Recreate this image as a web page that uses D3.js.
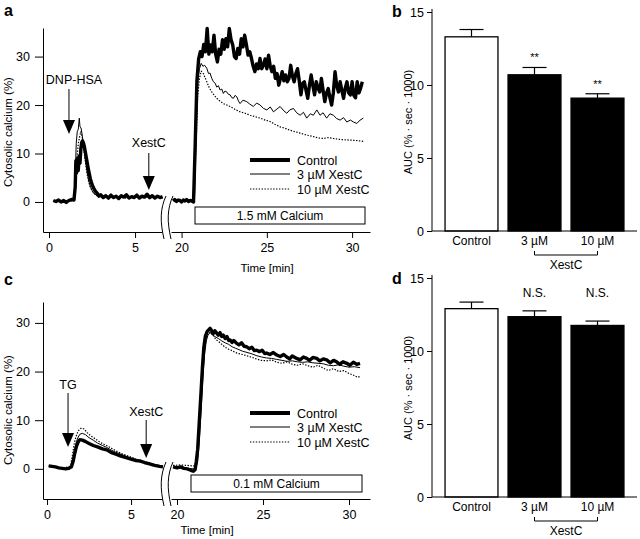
<!DOCTYPE html>
<html><head><meta charset="utf-8">
<script src="https://cdn.jsdelivr.net/npm/d3@7"></script>
<style>body{margin:0;background:#fff} text{font-family:"Liberation Sans",Arial,sans-serif;fill:#000}</style>
</head><body><svg id="chart" width="640" height="539"></svg>
<script>
// ---------------- DATA ----------------
// Panel a: DNP-HSA stimulation, 1.5 mM calcium re-addition ([time min, cytosolic calcium %])
const aCtrlLeft = [[0.25,0.3],[0.4,0.1],[0.55,0.4],[0.7,0.0],[0.85,0.3],[1.0,-0.1],[1.15,0.3],[1.3,0.5],[1.45,0.4],[1.52,3],[1.56,8.5],[1.6,6],[1.65,9],[1.7,6.5],[1.75,9.5],[1.8,8],[1.85,11],[1.9,12.3],[1.95,12.6],[2.0,12.2],[2.05,11.5],[2.1,10.5],[2.2,8.5],[2.3,6.5],[2.4,4.8],[2.5,3.6],[2.6,2.8],[2.7,2.2],[2.8,1.8],[2.9,1.2],[3.0,1.5],[3.15,0.9],[3.3,1.3],[3.45,0.8],[3.6,1.4],[3.75,0.9],[3.9,1.2],[4.05,0.7],[4.2,1.3],[4.35,1.0],[4.5,1.5],[4.65,0.8],[4.8,1.1],[4.95,0.9],[5.1,1.4],[5.25,0.8],[5.4,1.2],[5.55,1.0],[5.7,1.6],[5.85,0.9],[6.0,1.3],[6.15,0.8],[6.3,1.2],[6.45,0.9],[6.6,1.1]];
const a3Left = [[0.25,0.2],[0.5,0.3],[0.75,0.1],[1.0,0.2],[1.25,0.3],[1.45,0.4],[1.52,5],[1.58,12],[1.64,14.5],[1.7,15],[1.76,17.3],[1.8,15.5],[1.86,15.3],[1.92,14],[2.0,12],[2.1,9],[2.2,6.5],[2.3,4.5],[2.4,3.2],[2.5,2.4],[2.6,1.8],[2.8,1.3],[3.0,1.1],[3.5,1.0],[4.0,1.1],[4.5,0.9],[5.0,1.0],[5.5,1.0],[6.0,1.0],[6.6,0.9]];
const a10Left = [[0.25,0.2],[0.5,0.1],[0.75,0.3],[1.0,0.2],[1.25,0.2],[1.45,0.3],[1.55,4],[1.62,9],[1.7,12],[1.78,13.5],[1.85,14.5],[1.92,13.5],[2.0,11.5],[2.1,8.5],[2.2,6],[2.3,4.2],[2.4,3],[2.55,2],[2.7,1.4],[3.0,1.1],[3.5,0.9],[4.0,1.0],[4.5,0.8],[5.0,1.0],[5.5,0.9],[6.0,1.0],[6.6,0.8]];
const aCtrlRight = [[19.5,0.2],[19.6,0.5],[19.7,0.1],[19.8,0.4],[19.9,0.3],[20.0,0.0],[20.1,0.4],[20.2,0.2],[20.3,0.5],[20.4,0.1],[20.5,0.3],[20.6,0.2],[20.7,0.0],[20.8,12],[20.9,25],[21.0,29.5],[21.1,31],[21.2,30],[21.3,32.5],[21.4,31],[21.5,35.8],[21.6,30.5],[21.7,32.4],[21.8,31],[21.9,34.4],[22.0,30.5],[22.1,28.9],[22.2,31.5],[22.3,30.5],[22.4,33.5],[22.5,31.5],[22.6,33.7],[22.7,32],[22.8,35.8],[22.9,33.5],[23.0,32.4],[23.1,30],[23.2,29.6],[23.3,31.7],[23.4,30.5],[23.5,33.7],[23.6,32],[23.7,34.4],[23.8,32.5],[23.9,30.3],[24.0,31],[24.1,29.6],[24.2,28],[24.3,26.9],[24.4,28.5],[24.5,27.5],[24.6,29.6],[24.7,27.5],[24.8,28.2],[24.9,29.5],[25.0,27.5],[25.1,30.3],[25.2,28],[25.3,26.9],[25.4,28],[25.5,25.5],[25.6,26.5],[25.7,24.1],[25.8,25.5],[25.9,26.9],[26.0,25],[26.1,26.2],[26.2,24.8],[26.3,25.5],[26.4,28.2],[26.5,26],[26.6,24.8],[26.7,26.5],[26.8,27.5],[26.9,25],[27.0,22.1],[27.1,24.5],[27.2,24.8],[27.3,23],[27.4,21.4],[27.5,24.1],[27.6,26.2],[27.7,24],[27.8,22.1],[27.9,24.8],[28.0,23.5],[28.1,22.7],[28.2,25.5],[28.3,23],[28.4,20.7],[28.5,22.5],[28.6,23.4],[28.7,21.5],[28.8,20],[28.9,22.5],[29.0,26.9],[29.1,24],[29.2,22.7],[29.3,24.8],[29.4,23],[29.5,21.4],[29.6,23.5],[29.7,24.8],[29.8,22.5],[29.9,22.1],[30.0,24.8],[30.1,22],[30.2,21.5],[30.3,24.8],[30.4,22.5],[30.5,23.5],[30.6,24.8]];
const a3Right = [[19.5,0.3],[20.0,0.2],[20.5,0.3],[20.75,0.3],[20.85,14],[20.95,25],[21.05,27.5],[21.15,28.6],[21.25,28],[21.35,28.2],[21.48,27.6],[21.58,26.5],[21.67,26.6],[21.77,25.5],[21.87,24.8],[21.97,24.5],[22.06,23.7],[22.16,24],[22.26,23.1],[22.36,23.3],[22.45,22.4],[22.55,22.9],[22.65,22.7],[22.75,22.2],[22.85,22.1],[22.95,21.5],[23.04,21.4],[23.14,22],[23.24,21.7],[23.34,20.8],[23.43,20.3],[23.6,21],[23.82,20.7],[24.0,20.2],[24.21,19.7],[24.4,20.4],[24.61,20.0],[24.8,19.3],[25.0,19.0],[25.2,19.6],[25.39,18.6],[25.6,19.2],[25.78,19.7],[26.0,18.8],[26.17,18.3],[26.35,19.0],[26.56,19.3],[26.75,18.4],[26.95,17.9],[27.15,18.5],[27.34,17.3],[27.55,18.2],[27.73,17.9],[27.93,19.0],[28.12,17.9],[28.3,18.4],[28.51,17.3],[28.7,18.2],[28.9,17.9],[29.1,17.2],[29.3,16.9],[29.5,17.4],[29.69,16.5],[29.9,16.9],[30.08,16.5],[30.28,16.2],[30.47,16.9],[30.66,17.3]];
const a10Right = [[19.5,0.3],[20.0,0.3],[20.5,0.2],[20.75,0.3],[20.85,12],[20.95,22],[21.05,25.5],[21.15,27],[21.28,26.5],[21.38,25.6],[21.48,24.8],[21.62,23.6],[21.77,22.7],[21.92,22],[22.06,21.4],[22.25,20.8],[22.45,20.3],[22.65,20.0],[22.85,19.7],[23.14,19.1],[23.43,18.6],[23.72,18.3],[24.02,17.9],[24.31,17.6],[24.61,17.3],[24.9,16.9],[25.19,16.6],[25.49,16.0],[25.78,15.5],[26.07,15.2],[26.36,14.8],[26.66,14.5],[26.95,14.2],[27.34,13.8],[27.73,13.5],[28.03,13.2],[28.32,13.1],[28.61,13.3],[28.9,13.1],[29.3,12.9],[29.69,12.8],[30.18,12.7],[30.66,12.5]];

// Panel c: TG stimulation, 0.1 mM calcium re-addition
const cCtrlLeft = [[0.1,0.6],[0.3,0.5],[0.5,0.4],[0.7,0.2],[0.9,0.1],[1.1,0.0],[1.3,0.1],[1.45,0.4],[1.55,1.5],[1.65,3.2],[1.75,4.6],[1.85,5.5],[1.95,6.0],[2.1,5.9],[2.3,5.6],[2.5,5.2],[2.75,4.8],[3.0,4.5],[3.3,4.1],[3.55,3.9],[3.8,3.4],[4.1,3.0],[4.4,2.6],[4.7,2.3],[5.0,2.0],[5.3,1.7],[5.55,1.6],[5.8,1.3],[6.1,1.0],[6.4,0.7],[6.7,0.5],[6.9,0.4]];
const c3Left = [[0.1,0.6],[0.4,0.5],[0.7,0.3],[1.0,0.1],[1.3,0.2],[1.45,0.6],[1.55,2.2],[1.65,4.2],[1.75,5.6],[1.85,6.5],[1.95,7.1],[2.1,7.3],[2.3,7.0],[2.5,6.4],[2.75,5.9],[3.0,5.3],[3.3,4.8],[3.55,4.4],[3.8,3.9],[4.1,3.4],[4.4,3.0],[4.7,2.6],[5.0,2.2],[5.3,1.9],[5.6,1.6],[5.9,1.3],[6.2,1.0],[6.5,0.7],[6.9,0.5]];
const c10Left = [[0.1,0.5],[0.4,0.4],[0.7,0.2],[1.0,0.2],[1.3,0.4],[1.42,1.0],[1.52,3.0],[1.62,5.2],[1.72,6.6],[1.82,7.5],[1.92,8.1],[2.05,8.4],[2.2,8.2],[2.4,7.4],[2.6,6.8],[2.85,6.2],[3.1,5.6],[3.35,5.1],[3.6,4.7],[3.85,4.2],[4.1,3.7],[4.4,3.2],[4.7,2.8],[5.0,2.4],[5.3,2.0],[5.6,1.7],[5.9,1.4],[6.2,1.1],[6.5,0.8],[6.9,0.6]];
const cCtrlRight = [[19.77,0.4],[20.0,0.2],[20.2,0.4],[20.4,0.1],[20.6,0.0],[20.8,-0.3],[20.95,-0.5],[21.05,-0.2],[21.12,1.5],[21.2,4],[21.3,10],[21.4,16],[21.48,21],[21.56,25],[21.65,27.3],[21.75,28.2],[21.85,28.6],[21.92,28.9],[22.0,28.5],[22.1,27.8],[22.2,28.4],[22.31,27.9],[22.4,27.5],[22.5,28.0],[22.6,27.2],[22.69,27.5],[22.8,26.8],[22.9,27.2],[23.0,26.4],[23.08,26.5],[23.2,26.0],[23.3,26.4],[23.47,25.8],[23.6,25.5],[23.75,25.9],[23.9,25.2],[24.05,25.1],[24.2,24.7],[24.35,25.0],[24.5,24.3],[24.63,24.4],[24.8,24.1],[24.95,24.4],[25.1,23.7],[25.21,23.8],[25.4,23.5],[25.6,23.9],[25.8,23.4],[26.0,23.1],[26.2,23.5],[26.38,23.0],[26.55,22.6],[26.7,23.2],[26.96,22.7],[27.15,22.4],[27.35,23.0],[27.54,22.7],[27.7,22.3],[27.9,22.9],[28.12,22.7],[28.3,22.2],[28.5,22.6],[28.7,22.4],[28.9,21.8],[29.1,22.3],[29.28,22.0],[29.45,21.5],[29.65,22.0],[29.87,21.7],[30.05,21.3],[30.25,21.9],[30.45,21.5],[30.64,21.7]];
const c3Right = [[19.77,0.3],[20.2,0.2],[20.6,0.1],[20.95,0.0],[21.1,0.2],[21.2,1.5],[21.3,6],[21.4,12],[21.5,18.5],[21.6,23.5],[21.7,26.3],[21.8,27.5],[21.92,28.0],[22.05,27.6],[22.2,27.2],[22.4,26.8],[22.6,26.3],[22.8,25.9],[23.0,25.6],[23.2,25.1],[23.4,24.8],[23.6,24.5],[23.8,24.2],[24.0,24.0],[24.3,23.7],[24.6,23.3],[24.9,23.0],[25.2,22.8],[25.5,22.7],[25.8,22.5],[26.1,22.3],[26.4,22.1],[26.7,22.2],[27.0,22.0],[27.3,21.9],[27.6,22.0],[27.9,21.8],[28.2,21.7],[28.5,21.6],[28.8,21.3],[29.1,21.2],[29.4,21.4],[29.7,21.1],[30.0,20.9],[30.3,21.0],[30.64,20.8]];
const c10Right = [[19.77,0.7],[20.2,0.8],[20.6,0.7],[20.95,0.6],[21.1,0.8],[21.2,2.5],[21.3,8],[21.4,14],[21.5,20],[21.6,24.5],[21.7,26.8],[21.8,27.8],[21.95,28.1],[22.1,27.5],[22.25,26.6],[22.4,26.2],[22.6,25.6],[22.8,25.0],[23.0,24.6],[23.2,24.3],[23.4,23.9],[23.6,23.7],[23.8,23.5],[24.0,23.3],[24.3,23.0],[24.6,22.6],[24.9,22.3],[25.2,22.2],[25.5,22.4],[25.8,21.9],[26.1,21.7],[26.4,22.0],[26.7,21.5],[27.0,21.3],[27.3,21.6],[27.6,21.2],[27.9,20.9],[28.2,21.3],[28.5,20.7],[28.8,20.2],[29.1,20.6],[29.4,20.0],[29.7,20.2],[30.0,19.6],[30.3,19.2],[30.5,18.8],[30.64,19.0]];

const traceTicksY = [0, 10, 20, 30];
const traceTicksLeft = [0, 5];
const traceTicksRight = [20, 25, 30];
const legendLabels = ["Control", "3 µM XestC", "10 µM XestC"];

// Panels b and d: AUC (% · sec · 1000)
const barCategories = ["Control", "3 µM", "10 µM"];
const aucB = [13.3, 10.7, 9.1];
const aucBErr = [0.5, 0.5, 0.3];
const sigB = ["", "**", "**"];
const aucD = [12.9, 12.35, 11.75];
const aucDErr = [0.45, 0.4, 0.3];
const sigD = ["", "N.S.", "N.S."];
const barTicksY = [0, 5, 10, 15];

// ---------------- DRAW ----------------
const svg = d3.select("#chart");
const FONT = '"Liberation Sans", Arial, sans-serif';

function styleAxis(g, fs) {
  g.selectAll("path.domain").attr("stroke", "#000").attr("stroke-width", 1);
  g.selectAll(".tick line").attr("stroke", "#000").attr("stroke-width", 1);
  g.selectAll(".tick text").attr("font-family", FONT).attr("font-size", fs).attr("fill", "#000");
}

function tracePanel(o) {
  const g = svg.append("g");
  const y = d3.scaleLinear().domain(o.yDomain).range([o.yBottom, o.yTop]);
  const xL = d3.scaleLinear().domain(o.xLDomain).range(o.xLRange);
  const xR = d3.scaleLinear().domain(o.xRDomain).range(o.xRRange);

  const styles = [
    {w: 3.4, dash: null},
    {w: 1, dash: null},
    {w: 1.2, dash: "1.4,1.5"}
  ];
  const lineL = d3.line().x(d => xL(d[0])).y(d => y(d[1]));
  const lineR = d3.line().x(d => xR(d[0])).y(d => y(d[1]));
  [0, 1, 2].forEach(i => {
    [[o.left[i], lineL], [o.right[i], lineR]].forEach(([data, ln]) => {
      g.append("path").attr("d", ln(data)).attr("fill", "none")
        .attr("stroke", "#000").attr("stroke-width", styles[i].w)
        .attr("stroke-linejoin", "round")
        .attr("stroke-dasharray", styles[i].dash);
    });
  });

  const ya = g.append("g").attr("transform", `translate(${o.yAxisX},0)`)
    .call(d3.axisLeft(y).tickValues(traceTicksY).tickSize(8).tickPadding(5).tickSizeOuter(0));
  styleAxis(ya, 12.5);
  const xa1 = g.append("g").attr("transform", `translate(0,${o.yBottom})`)
    .call(d3.axisBottom(xL).tickValues(traceTicksLeft).tickSize(6).tickPadding(5).tickSizeOuter(0));
  const xa2 = g.append("g").attr("transform", `translate(0,${o.yBottom})`)
    .call(d3.axisBottom(xR).tickValues(traceTicksRight).tickSize(6).tickPadding(5).tickSizeOuter(0));
  styleAxis(xa1, 12.5); styleAxis(xa2, 12.5);

  // axis break
  const bx = o.breakX, b0 = o.breakTop, b1 = o.yBottom + 7, h = b1 - b0;
  const c1 = `M${bx - 2},${b0} C${bx - 8},${b0 + h * 0.3} ${bx - 8},${b0 + h * 0.6} ${bx - 4},${b1}`;
  const c2 = `M${bx + 5},${b0} C${bx - 1},${b0 + h * 0.3} ${bx - 1},${b0 + h * 0.6} ${bx + 3},${b1}`;
  g.append("path")
    .attr("d", `M${bx - 2},${b0} C${bx - 8},${b0 + h * 0.3} ${bx - 8},${b0 + h * 0.6} ${bx - 4},${b1} L${bx + 3},${b1} C${bx - 1},${b0 + h * 0.6} ${bx - 1},${b0 + h * 0.3} ${bx + 5},${b0} Z`)
    .attr("fill", "#fff").attr("stroke", "none");
  g.append("path").attr("d", c1).attr("fill", "none").attr("stroke", "#000").attr("stroke-width", 1);
  g.append("path").attr("d", c2).attr("fill", "none").attr("stroke", "#000").attr("stroke-width", 1);

  // calcium box
  g.append("rect").attr("x", o.box[0]).attr("y", o.box[1]).attr("width", o.box[2]).attr("height", o.box[3])
    .attr("fill", "#fff").attr("stroke", "#000").attr("stroke-width", 1);
  g.append("text").attr("x", o.box[0] + o.box[2] / 2).attr("y", o.box[1] + o.box[3] / 2 + 4.5)
    .attr("text-anchor", "middle").attr("font-size", 12).text(o.boxText);

  // legend
  o.legendY.forEach((ly, i) => {
    g.append("line").attr("x1", 250).attr("x2", 290).attr("y1", ly).attr("y2", ly)
      .attr("stroke", "#000").attr("stroke-width", i === 0 ? 4 : styles[i].w)
      .attr("stroke-dasharray", styles[i].dash);
    g.append("text").attr("x", 297).attr("y", ly + 4.5).attr("font-size", 12.5).text(legendLabels[i]);
  });

  // arrows
  o.arrows.forEach(a => {
    const ax = xL(a.t);
    g.append("text").attr("x", ax + (a.dx || 0)).attr("y", a.textY).attr("text-anchor", "middle")
      .attr("font-size", 12.5).text(a.label);
    g.append("line").attr("x1", ax).attr("x2", ax).attr("y1", a.y0).attr("y2", a.y1 - 10)
      .attr("stroke", "#000").attr("stroke-width", 1);
    g.append("path").attr("d", `M${ax - 6},${a.y1 - 14} L${ax + 6},${a.y1 - 14} L${ax},${a.y1} Z`).attr("fill", "#000");
  });

  g.append("text").attr("transform", `translate(${o.yLabelX},${o.yLabelY}) rotate(-90)`)
    .attr("text-anchor", "middle").attr("font-size", 11.5).text("Cytosolic calcium (%)");
  g.append("text").attr("x", o.xLabelX).attr("y", o.xLabelY).attr("text-anchor", "middle")
    .attr("font-size", 11.5).text("Time [min]");
  g.append("text").attr("x", o.letterX).attr("y", o.letterY).attr("font-size", 16)
    .attr("font-weight", "bold").text(o.letter);
}

tracePanel({
  letter: "a", letterX: 4, letterY: 16,
  yDomain: [-6.2, 35.9], yBottom: 232, yTop: 28, yAxisX: 43,
  xLDomain: [-0.35, 6.74], xLRange: [43, 165],
  xRDomain: [19.38, 31.05], xRRange: [171, 370],
  left: [aCtrlLeft, a3Left, a10Left], right: [aCtrlRight, a3Right, a10Right],
  breakX: 168, breakTop: 196,
  box: [195, 207, 170, 17], boxText: "1.5 mM Calcium",
  legendY: [160, 174, 189],
  arrows: [
    {t: 1.16, label: "DNP-HSA", textY: 84, y0: 89, y1: 134, dx: 5},
    {t: 5.8, label: "XestC", textY: 147, y0: 153, y1: 190, dx: 0}
  ],
  yLabelX: 12, yLabelY: 132, xLabelX: 267, xLabelY: 272
});

tracePanel({
  letter: "c", letterX: 4, letterY: 285,
  yDomain: [-6.2, 34.3], yBottom: 499, yTop: 302, yAxisX: 43,
  xLDomain: [-0.24, 7.02], xLRange: [43, 165],
  xRDomain: [19.65, 31.22], xRRange: [171, 370],
  left: [cCtrlLeft, c3Left, c10Left], right: [cCtrlRight, c3Right, c10Right],
  breakX: 168, breakTop: 462,
  box: [191, 475, 171, 17], boxText: "0.1 mM Calcium",
  legendY: [413, 427, 442],
  arrows: [
    {t: 1.25, label: "TG", textY: 389, y0: 393, y1: 447, dx: 0},
    {t: 5.9, label: "XestC", textY: 416, y0: 420, y1: 458, dx: 0}
  ],
  yLabelX: 12, yLabelY: 410, xLabelX: 207, xLabelY: 534
});

function barPanel(o) {
  const g = svg.append("g");
  const y = d3.scaleLinear().domain([0, 15]).range([o.y0, o.y15]);
  const x = d3.scaleBand().domain(barCategories).range([440, 629]).paddingInner(0.16).paddingOuter(0.08);
  barCategories.forEach((c, i) => {
    const cx = x(c) + x.bandwidth() / 2;
    g.append("line").attr("x1", cx).attr("x2", cx).attr("y1", y(o.vals[i])).attr("y2", y(o.vals[i] + o.errs[i]))
      .attr("stroke", "#000").attr("stroke-width", 1.2);
    g.append("line").attr("x1", cx - 12).attr("x2", cx + 12).attr("y1", y(o.vals[i] + o.errs[i])).attr("y2", y(o.vals[i] + o.errs[i]))
      .attr("stroke", "#000").attr("stroke-width", 1.2);
    g.append("rect").attr("x", x(c)).attr("width", x.bandwidth())
      .attr("y", y(o.vals[i])).attr("height", y(0) - y(o.vals[i]))
      .attr("fill", i === 0 ? "#fff" : "#000").attr("stroke", "#000").attr("stroke-width", 1.3);
    if (o.sig[i]) {
      const sy = o.sigFixed != null ? y(o.sigFixed) : y(o.vals[i] + o.errs[i]) - 6;
      g.append("text").attr("x", cx).attr("y", sy).attr("text-anchor", "middle")
        .attr("font-size", o.sigSize).text(o.sig[i]);
    }
  });
  const ya = g.append("g").attr("transform", `translate(432,0)`)
    .call(d3.axisLeft(y).tickValues(barTicksY).tickSize(5).tickPadding(3).tickSizeOuter(0));
  styleAxis(ya, 12.5);
  ya.select("path.domain").attr("d", `M0,${o.y15 - 3}V${o.y0}`);
  g.append("line").attr("x1", 432).attr("x2", 637).attr("y1", o.y0).attr("y2", o.y0).attr("stroke", "#000");
  barCategories.forEach(c => {
    g.append("text").attr("x", x(c) + x.bandwidth() / 2).attr("y", o.y0 + 14).attr("text-anchor", "middle")
      .attr("font-size", 12).text(c);
  });
  const bxa = x(barCategories[1]) + x.bandwidth() / 2, bxb = x(barCategories[2]) + x.bandwidth() / 2;
  g.append("path").attr("d", `M${bxa},${o.y0 + 20} V${o.y0 + 24} H${bxb} V${o.y0 + 20}`)
    .attr("fill", "none").attr("stroke", "#000").attr("stroke-width", 1);
  g.append("text").attr("x", (bxa + bxb) / 2).attr("y", o.y0 + 38).attr("text-anchor", "middle")
    .attr("font-size", 12).text("XestC");
  g.append("text").attr("transform", `translate(412,${o.labelY}) rotate(-90)`)
    .attr("text-anchor", "middle").attr("font-size", 11).text("AUC (% · sec · 1000)");
  g.append("text").attr("x", 392).attr("y", o.letterY).attr("font-size", 16)
    .attr("font-weight", "bold").text(o.letter);
}

barPanel({letter: "b", letterY: 17, y0: 231, y15: 12, vals: aucB, errs: aucBErr, sig: sigB, sigSize: 11, sigFixed: null, labelY: 122});
barPanel({letter: "d", letterY: 284, y0: 497, y15: 278, vals: aucD, errs: aucDErr, sig: sigD, sigSize: 12, sigFixed: 13.7, labelY: 388});
</script>
</body></html>
